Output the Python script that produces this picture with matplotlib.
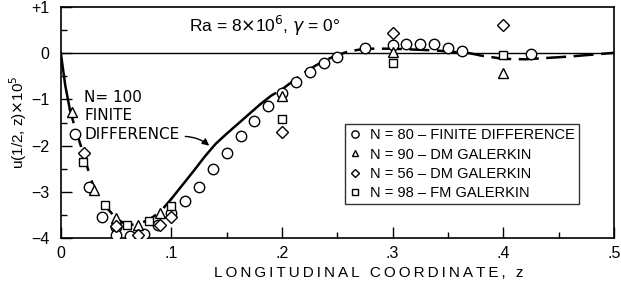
import numpy as np
import matplotlib.pyplot as plt
from matplotlib.ticker import MultipleLocator, FixedLocator

plt.rcParams['font.family'] = ['Liberation Sans', 'DejaVu Sans']

# N=100 finite difference curve
line_z = [0.0, 0.004, 0.008, 0.012, 0.016, 0.02, 0.025, 0.03, 0.04, 0.05, 0.06, 0.07, 0.08,
          0.09, 0.1, 0.11, 0.12, 0.13, 0.14, 0.15, 0.16, 0.17, 0.18, 0.19, 0.2, 0.21, 0.22,
          0.23, 0.24, 0.25, 0.26, 0.27, 0.28, 0.3, 0.32, 0.34, 0.36, 0.37, 0.38, 0.4, 0.42,
          0.44, 0.46, 0.48, 0.5]
line_u = [0.0, -0.7, -1.2, -1.55, -1.85, -2.15, -2.55, -2.92, -3.3, -3.58, -3.72, -3.7, -3.6,
          -3.43, -3.15, -2.85, -2.55, -2.24, -1.96, -1.74, -1.53, -1.32, -1.11, -0.92, -0.78,
          -0.6, -0.42, -0.27, -0.14, -0.04, 0.04, 0.08, 0.1, 0.1, 0.08, 0.06, 0.02, 0.0, -0.05,
          -0.12, -0.13, -0.1, -0.07, -0.03, 0.01]

circ_z = [0.0125, 0.025, 0.0375, 0.05, 0.05, 0.0625, 0.075, 0.0875, 0.1, 0.1125, 0.125, 0.1375,
          0.15, 0.1625, 0.175, 0.1875, 0.2, 0.2125, 0.225, 0.2375, 0.25, 0.275, 0.3, 0.3125,
          0.325, 0.3375, 0.35, 0.3625, 0.425]
circ_u = [-1.74, -2.89, -3.55, -3.76, -3.93, -3.96, -3.92, -3.72, -3.45, -3.2, -2.89, -2.5,
          -2.15, -1.8, -1.46, -1.15, -0.85, -0.62, -0.41, -0.22, -0.08, 0.12, 0.18, 0.21,
          0.21, 0.2, 0.12, 0.04, -0.02]

tri_z = [0.01, 0.03, 0.05, 0.07, 0.09, 0.2, 0.3, 0.4]
tri_u = [-1.28, -2.96, -3.57, -3.72, -3.45, -0.92, 0.02, -0.43]

dia_z = [0.021, 0.05, 0.07, 0.09, 0.1, 0.2, 0.3, 0.4]
dia_u = [-2.15, -3.74, -3.93, -3.72, -3.55, -1.7, 0.44, 0.61]

sq_z = [0.02, 0.04, 0.06, 0.08, 0.1, 0.2, 0.3, 0.4]
sq_u = [-2.35, -3.28, -3.72, -3.63, -3.3, -1.42, -0.22, -0.04]

labels = ["N = 80 \u2013 FINITE DIFFERENCE", "N = 90 \u2013 DM GALERKIN",
          "N = 56 \u2013 DM GALERKIN", "N = 98 \u2013 FM GALERKIN"]


def track(s, sp):
    # crude letter spacing, the original lettering is widely spaced
    return sp.join(list(s))


fig = plt.figure(figsize=(6.21, 2.85), dpi=100)
ax = fig.add_axes([0.098, 0.165, 0.8905, 0.81])

lz = np.array(line_z)
lu = np.array(line_u)
# solid near the wall, dashed to .1, solid to ~.18, dashed afterwards
m1 = lz <= 0.008
m2 = (lz >= 0.008) & (lz <= 0.1)
m3 = (lz >= 0.1) & (lz <= 0.18)
m4 = lz >= 0.18
ax.plot(lz[m1], lu[m1], color='black', lw=1.8)
ax.plot(lz[m2], lu[m2], color='black', lw=1.8, dashes=(6, 4))
ax.plot(lz[m3], lu[m3], color='black', lw=1.8)
ax.plot(lz[m4], lu[m4], color='black', lw=1.8, dashes=(8, 3))

ax.axhline(0, color='black', lw=1.0)

mk = dict(linestyle='none', mfc='white', mec='black', mew=1.0, zorder=3)
h1, = ax.plot(circ_z, circ_u, marker='o', ms=7.5, **mk)
h2, = ax.plot(tri_z, tri_u, marker='^', ms=7, **mk)
h3, = ax.plot(dia_z, dia_u, marker='D', ms=5.8, **mk)
h4, = ax.plot(sq_z, sq_u, marker='s', ms=6, **mk)

leg = ax.legend([h1, h2, h3, h4], labels, loc='lower right',
                bbox_to_anchor=(0.95, 0.115), fontsize=10.5, frameon=True,
                fancybox=False, edgecolor='black', handlelength=0.8,
                handletextpad=0.6, borderpad=0.3, labelspacing=0.35, markerscale=0.7)
leg.get_frame().set_linewidth(1.0)

ax.text(0.184, 0.6, "Ra = 8$\\times$10$^6$, $\\gamma$ = 0\u00b0", ha='center', va='center',
        fontsize=12.5)

ax.text(0.021, -1.35, "N= 100\nFINITE\nDIFFERENCE", family='DejaVu Sans',
        ha='left', va='center', fontsize=11, linespacing=1.3)
ax.annotate("", xy=(0.136, -2.04), xytext=(0.11, -1.8),
            arrowprops=dict(arrowstyle='-|>', color='black', lw=1.0,
                            connectionstyle='arc3,rad=-0.2', mutation_scale=10))

ax.set_xlim(0, 0.5)
ax.set_ylim(-4, 1)
ax.xaxis.set_major_locator(FixedLocator([0, 0.1, 0.2, 0.3, 0.4, 0.5]))
ax.set_xticklabels(["0", ".1", ".2", ".3", ".4", ".5"])
ax.xaxis.set_minor_locator(MultipleLocator(0.05))
ax.yaxis.set_minor_locator(MultipleLocator(0.5))
ax.set_yticks([-4, -3, -2, -1, 0, 1])
ax.set_yticklabels(["\u22124", "\u22123", "\u22122", "\u22121", "0", "+1"])
ax.tick_params(axis='both', which='major', direction='in', length=8, width=1.0,
               labelsize=11.5, top=False, right=False)
ax.tick_params(axis='both', which='minor', direction='in', length=4, width=1.0,
               top=False, right=False)
ax.tick_params(axis='y', pad=8)
ax.tick_params(axis='x', pad=6)
for s in ax.spines.values():
    s.set_linewidth(1.2)

ax.set_xlabel(track("LONGITUDINAL COORDINATE, z", "\u2009"), fontsize=11)
ax.xaxis.set_label_coords(0.557, -0.15)
ax.xaxis.label.set_va('center')
ax.set_ylabel("u(1/2, z)$\\times$10$^5$", fontsize=11, labelpad=2)

fig.savefig("out.png", dpi=100)
